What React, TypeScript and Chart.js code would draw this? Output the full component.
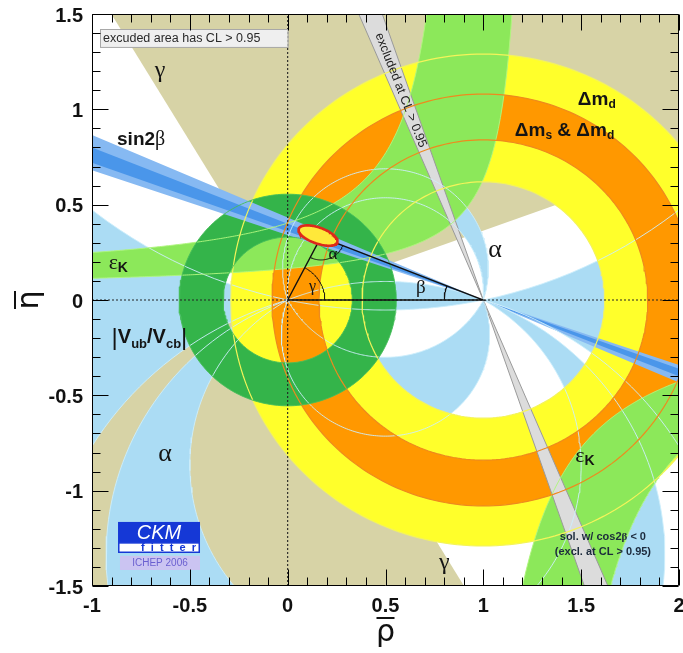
import React, { useEffect, useRef } from "react";
import { Chart, registerables } from "chart.js";

Chart.register(...registerables);

// ---------------- values ----------------
const X_TICKS = [-1, -0.5, 0, 0.5, 1, 1.5, 2];
const Y_TICKS = [-1.5, -1, -0.5, 0, 0.5, 1, 1.5];

// unitarity triangle apex (rho, eta) and 95% CL fit ellipse
const TRI_RHO = [0, 0.17, 1, 0];
const TRI_ETA = [0, 0.33, 0, 0];
const FIT_ELLIPSE = { rho: 0.155, eta: 0.338, semiMajor: 0.105, semiMinor: 0.042, tiltDeg: -20 };

// gamma: allowed wedges seen from (0,0), degrees
const GAMMA_WEDGES = [[20, 121], [200, 301]];
// alpha: allowed intervals (deg) of the angle seen from (rho,eta) to (0,0),(1,0)
const ALPHA_UPPER = [[0, 12], [72, 86], [158, 180]];
const ALPHA_LOWER = [[0, 16.5], [20.5, 30], [70, 118], [168, 180]];
// rings: [inner, outer] radius
const DMD_RADII = [0.62, 1.29]; // around (1,0)
const DMS_RADII = [0.84, 1.08]; // around (1,0)
const VUB_RADII = [0.33, 0.555]; // around (0,0)
// eps_K band edges: eta = c + k / (a - rho)   [upper edge, lower edge]
const EPSK_UPPER_A = [0.9, 1.245];
const EPSK_UPPER_K = [0.264, 0.143];
const EPSK_UPPER_C = [0.11, 0.05];
// second branch (lower right): eta = -k / (rho - a)
const EPSK_LOWER_A = [0.881, 1.247];
const EPSK_LOWER_K = [0.479, 0.605];
// beta bands seen from (1,0), degrees
const SIN2B_OUTER = [18.8, 23.4];
const SIN2B_CORE = [19.8, 21.8];
const COS2B_NEG = [67.0, 71.0];

// ---------------- styling ----------------
const SANS = '"Liberation Sans", Arial, Helvetica, sans-serif';
const SERIF = '"Liberation Serif", "DejaVu Serif", serif';
const C = {
  tan: "#d7d3a6",
  alpha: "#abdcf4",
  yellow: "#ffff2b",
  orange: "#ff9800",
  lgreen: "#8ce85a",
  dgreen: "#34b44a",
  grey: "#dcdcdc",
  blueLight: "#86b9f2",
  blue: "#4a96ea",
};

type Seg = { t: string; font: string; dy?: number };
type Label = { at: [number, number]; segs: Seg[]; align?: "left" | "center"; color?: string };

const LABELS: Label[] = [
  { at: [-0.652, 1.2], align: "center", segs: [{ t: "γ", font: `24px ${SERIF}` }] },
  { at: [-0.872, 0.839], segs: [{ t: "sin2", font: `bold 19px ${SANS}` }, { t: "β", font: `20px ${SERIF}` }] },
  { at: [-0.915, 0.195], segs: [{ t: "ε", font: `22px ${SERIF}` }, { t: "K", font: `bold 14px ${SANS}`, dy: 5 }] },
  {
    at: [-0.9, -0.199],
    segs: [
      { t: "|", font: `24px ${SANS}` },
      { t: "V", font: `bold 20px ${SANS}` },
      { t: "ub", font: `bold 13px ${SANS}`, dy: 6 },
      { t: "/V", font: `bold 20px ${SANS}` },
      { t: "cb", font: `bold 13px ${SANS}`, dy: 6 },
      { t: "|", font: `24px ${SANS}` },
    ],
  },
  { at: [-0.627, -0.81], align: "center", segs: [{ t: "α", font: `26px ${SERIF}` }] },
  { at: [0.8, -1.38], align: "center", segs: [{ t: "γ", font: `24px ${SERIF}` }] },
  { at: [1.06, 0.262], align: "center", segs: [{ t: "α", font: `26px ${SERIF}` }] },
  { at: [0.681, 0.063], align: "center", segs: [{ t: "β", font: `19px ${SERIF}` }] },
  { at: [0.231, 0.236], align: "center", segs: [{ t: "α", font: `17px ${SERIF}` }] },
  { at: [0.127, 0.068], align: "center", segs: [{ t: "γ", font: `16px ${SERIF}` }] },
  { at: [1.483, 1.049], segs: [{ t: "Δm", font: `bold 19px ${SANS}` }, { t: "d", font: `bold 12px ${SANS}`, dy: 5 }] },
  {
    at: [1.161, 0.886],
    segs: [
      { t: "Δm", font: `bold 19px ${SANS}` },
      { t: "s", font: `bold 12px ${SANS}`, dy: 5 },
      { t: " & ", font: `bold 19px ${SANS}` },
      { t: "Δm", font: `bold 19px ${SANS}` },
      { t: "d", font: `bold 12px ${SANS}`, dy: 5 },
    ],
  },
  { at: [1.47, -0.818], segs: [{ t: "ε", font: `22px ${SERIF}` }, { t: "K", font: `bold 14px ${SANS}`, dy: 5 }] },
  { at: [1.611, -1.243], align: "center", color: "#1c2a3c", segs: [{ t: "sol. w/ cos2", font: `bold 11px ${SANS}` }, { t: "β", font: `bold 11px ${SERIF}` }, { t: " < 0", font: `bold 11px ${SANS}` }] },
  { at: [1.611, -1.321], align: "center", color: "#1c2a3c", segs: [{ t: "(excl. at CL > 0.95)", font: `bold 11px ${SANS}` }] },
];

// ---------------- geometry helpers ----------------
const D2R = Math.PI / 180;
const FAR = 9;
type Pt = { x: number; y: number };
const P = (x: number, y: number): Pt => ({ x, y });

function arcPts(cx: number, cy: number, r: number, d0: number, d1: number, n: number): Pt[] {
  const out: Pt[] = [];
  for (let i = 0; i <= n; i++) {
    const t = (d0 + ((d1 - d0) * i) / n) * D2R;
    out.push(P(cx + r * Math.cos(t), cy + r * Math.sin(t)));
  }
  return out;
}
function ring(cx: number, cy: number, r1: number, r2: number): Pt[] {
  return [...arcPts(cx, cy, r2, 0, 360, 240), ...arcPts(cx, cy, r1, 360, 0, 240)];
}
function wedge(cx: number, cy: number, d0: number, d1: number): Pt[] {
  return [P(cx, cy), ...arcPts(cx, cy, FAR, d0, d1, Math.max(2, Math.ceil(Math.abs(d1 - d0) / 3)))];
}
function bowtie(cx: number, cy: number, d0: number, d1: number): Pt[] {
  return [...wedge(cx, cy, d0, d1), ...wedge(cx, cy, d0 + 180, d1 + 180)];
}
function alphaArc(a: number, s: number): Pt[] {
  if (a <= 0) return [P(0, 0), P(-FAR, 0), P(-FAR, s * FAR), P(FAR, s * FAR), P(FAR, 0), P(1, 0)];
  if (a >= 180) return [P(0, 0), P(1, 0)];
  const cy = 0.5 / Math.tan(a * D2R);
  const r = 0.5 / Math.sin(a * D2R);
  const tA = Math.atan2(-cy, -0.5);
  const sweep = (360 - 2 * a) * D2R;
  const n = 180;
  const out: Pt[] = [];
  for (let i = 0; i <= n; i++) {
    const t = tA - (sweep * i) / n;
    out.push(P(0.5 + r * Math.cos(t), s * (cy + r * Math.sin(t))));
  }
  return out;
}
function alphaRegion(a1: number, a2: number, s: number): Pt[] {
  return [...alphaArc(a1, s), ...alphaArc(a2, s).reverse()];
}
function epsUpperEdge(j: number): Pt[] {
  const a = EPSK_UPPER_A[j], k = EPSK_UPPER_K[j], c = EPSK_UPPER_C[j];
  const top = 2.4, x0 = -1.4, n = 240;
  const xe = a - k / (top - c);
  const out: Pt[] = [];
  for (let i = 0; i <= n; i++) { const x = x0 + ((xe - x0) * i) / n; out.push(P(x, c + k / (a - x))); }
  return out;
}
function epsLowerEdge(j: number): Pt[] {
  const a = EPSK_LOWER_A[j], k = EPSK_LOWER_K[j];
  const bot = 2.4, x1 = 2.4, n = 240;
  const xs = a + k / bot;
  const out: Pt[] = [];
  for (let i = 0; i <= n; i++) { const x = xs + ((x1 - xs) * i) / n; out.push(P(x, -k / (x - a))); }
  return out;
}
function ellipsePts(): Pt[] {
  const e = FIT_ELLIPSE;
  const f = e.tiltDeg * D2R;
  const out: Pt[] = [];
  for (let i = 0; i <= 120; i++) {
    const t = (i / 120) * 2 * Math.PI;
    const c = Math.cos(t), s = Math.sin(t);
    out.push(P(e.rho + e.semiMajor * c * Math.cos(f) - e.semiMinor * s * Math.sin(f), e.eta + e.semiMajor * c * Math.sin(f) + e.semiMinor * s * Math.cos(f)));
  }
  return out;
}

function fillDS(pts: Pt[], color: string, stroke?: string, strokeW?: number) {
  return { type: "line", data: pts, showLine: false, pointRadius: 0, pointHoverRadius: 0, fill: false, polyFill: color, polyStroke: stroke, polyStrokeW: strokeW };
}
function lineDS(pts: Pt[], color: string, width: number, dash: number[] = []) {
  return { type: "line", data: pts, showLine: true, borderColor: color, borderWidth: width, borderDash: dash, pointRadius: 0, pointHoverRadius: 0, fill: false, tension: 0 };
}

function buildDatasets() {
  const apexR = TRI_RHO[1], apexE = TRI_ETA[1];
  const gammaDeg = Math.atan2(apexE, apexR) / D2R;
  const betaDeg = Math.atan2(apexE, 1 - apexR) / D2R;
  const toA = Math.atan2(-apexE, -apexR) / D2R;
  const toB = Math.atan2(-apexE, 1 - apexR) / D2R;

  const alphaLines: any[] = [];
  ALPHA_UPPER.forEach(([a, b]) => [a, b].forEach((v) => { if (v > 0 && v < 180) alphaLines.push(lineDS(alphaArc(v, 1), "rgba(205,238,252,0.9)", 1)); }));
  ALPHA_LOWER.forEach(([a, b]) => [a, b].forEach((v) => { if (v > 0 && v < 180) alphaLines.push(lineDS(alphaArc(v, -1), "rgba(205,238,252,0.9)", 1)); }));

  const up0 = epsUpperEdge(0), up1 = epsUpperEdge(1);
  const lo0 = epsLowerEdge(0), lo1 = epsLowerEdge(1);

  const layers: any[] = [
    ...GAMMA_WEDGES.map(([a, b]) => fillDS(wedge(0, 0, a, b), C.tan)),
    ...ALPHA_UPPER.map(([a, b]) => fillDS(alphaRegion(a, b, 1), C.alpha)),
    ...ALPHA_LOWER.map(([a, b]) => fillDS(alphaRegion(a, b, -1), C.alpha)),
    fillDS(ring(1, 0, DMD_RADII[0], DMD_RADII[1]), C.yellow),
    fillDS(ring(1, 0, DMS_RADII[0], DMS_RADII[1]), C.orange),
    fillDS([...up0, ...up1.slice().reverse()], C.lgreen),
    fillDS([...lo0, ...lo1.slice().reverse()], C.lgreen),
    fillDS(ring(0, 0, VUB_RADII[0], VUB_RADII[1]), C.dgreen),
    fillDS(bowtie(1, 0, 180 - COS2B_NEG[1], 180 - COS2B_NEG[0]), C.grey, "#9a9a9a", 1),
    fillDS(bowtie(1, 0, 180 - SIN2B_OUTER[1], 180 - SIN2B_OUTER[0]), C.blueLight),
    fillDS(bowtie(1, 0, 180 - SIN2B_CORE[1], 180 - SIN2B_CORE[0]), C.blue),
    ...alphaLines,
    ...[up0, up1, lo0, lo1].map((p) => lineDS(p, "rgba(175,245,125,0.95)", 1)),
    ...DMD_RADII.map((r) => lineDS(arcPts(1, 0, r, 0, 360, 240), "#f4f45a", 1.2)),
    ...DMS_RADII.map((r) => lineDS(arcPts(1, 0, r, 0, 360, 240), "#ee8a1e", 1.2)),
    ...VUB_RADII.map((r) => lineDS(arcPts(0, 0, r, 0, 360, 200), "rgba(70,190,90,0.9)", 1)),
    lineDS([P(0, Y_TICKS[0]), P(0, Y_TICKS[Y_TICKS.length - 1])], "#222", 1.1, [2, 2]),
    lineDS([P(X_TICKS[0], 0), P(X_TICKS[X_TICKS.length - 1], 0)], "#222", 1.1, [2, 2]),
    lineDS(TRI_RHO.map((r, i) => P(r, TRI_ETA[i])), "#111", 1.4),
    lineDS(arcPts(0, 0, 0.19, 0, gammaDeg, 40), "#111", 1),
    lineDS(arcPts(1, 0, 0.2, 180 - betaDeg, 180, 40), "#111", 1),
    lineDS(arcPts(apexR, apexE, 0.12, toA, toB, 40), "#111", 1),
    { ...lineDS(ellipsePts(), "#dd2a1a", 2.6), polyFill: "#ffe83a" },
  ];
  return layers.map((d, i) => ({ ...d, order: layers.length - i }));
}

// ---------------- plugins ----------------
const polyFillPlugin = {
  id: "polyFill",
  beforeDatasetDraw(chart: any, args: any) {
    const ds = chart.data.datasets[args.index];
    if (!ds || !ds.polyFill) return;
    const pts = args.meta.data;
    if (!pts || !pts.length) return;
    const { ctx, chartArea: a } = chart;
    ctx.save();
    ctx.beginPath();
    ctx.rect(a.left, a.top, a.right - a.left, a.bottom - a.top);
    ctx.clip();
    ctx.beginPath();
    pts.forEach((p: any, i: number) => (i ? ctx.lineTo(p.x, p.y) : ctx.moveTo(p.x, p.y)));
    ctx.closePath();
    ctx.fillStyle = ds.polyFill;
    ctx.fill();
    if (ds.polyStroke) {
      ctx.strokeStyle = ds.polyStroke;
      ctx.lineWidth = ds.polyStrokeW || 1;
      ctx.stroke();
    }
    ctx.restore();
  },
};

function drawRich(ctx: CanvasRenderingContext2D, x: number, y: number, segs: Seg[], align: string, color: string) {
  let w = 0;
  for (const s of segs) { ctx.font = s.font; w += ctx.measureText(s.t).width; }
  let cx = align === "center" ? x - w / 2 : x;
  ctx.textBaseline = "middle";
  ctx.textAlign = "left";
  ctx.fillStyle = color;
  for (const s of segs) {
    ctx.font = s.font;
    ctx.fillText(s.t, cx, y + (s.dy || 0));
    cx += ctx.measureText(s.t).width;
  }
}

const decorPlugin = {
  id: "decor",
  afterDatasetsDraw(chart: any) {
    const { ctx, chartArea: a, scales } = chart;
    const px = (v: number) => scales.x.getPixelForValue(v);
    const py = (v: number) => scales.y.getPixelForValue(v);
    ctx.save();

    // "excluded area" box
    const bx0 = px(-0.959), bx1 = px(0.0), by0 = py(1.421), by1 = py(1.327);
    ctx.fillStyle = "#efefef";
    ctx.fillRect(bx0, by0, bx1 - bx0, by1 - by0);
    ctx.strokeStyle = "#a8a8a8";
    ctx.lineWidth = 1;
    ctx.strokeRect(Math.round(bx0) + 0.5, Math.round(by0) + 0.5, bx1 - bx0, by1 - by0);
    ctx.fillStyle = "#2a2a2a";
    ctx.font = `12.5px ${SANS}`;
    ctx.textBaseline = "middle";
    ctx.textAlign = "left";
    ctx.fillText("excuded area has CL > 0.95", bx0 + 3, (by0 + by1) / 2 + 1);

    // text along the cos2beta<0 stripe
    const mid = (COS2B_NEG[0] + COS2B_NEG[1]) / 2;
    const dirX = px(1 + Math.cos(-mid * D2R)) - px(1);
    const dirY = py(Math.sin(-mid * D2R)) - py(0);
    const ang = Math.atan2(dirY, dirX);
    const sy = 1.1;
    const sx = 1 - sy / Math.tan(mid * D2R);
    ctx.save();
    ctx.translate(px(sx), py(sy));
    ctx.rotate(ang);
    ctx.font = `12.5px ${SANS}`;
    ctx.textAlign = "center";
    ctx.textBaseline = "middle";
    ctx.fillStyle = "#222";
    ctx.fillText("excluded at CL > 0.95", 0, 0);
    ctx.restore();

    // labels
    for (const L of LABELS) drawRich(ctx, px(L.at[0]), py(L.at[1]), L.segs, L.align || "left", L.color || "#141414");

    // CKMfitter logo
    const lx0 = px(-0.867), lx1 = px(-0.448);
    const ly0 = py(-1.164), ly1 = py(-1.274), ly2 = py(-1.327);
    ctx.fillStyle = "#1538d6";
    ctx.fillRect(lx0, ly0, lx1 - lx0, ly1 - ly0);
    ctx.fillStyle = "#ffffff";
    ctx.font = `italic 20px ${SANS}`;
    ctx.textAlign = "center";
    ctx.fillText("CKM", (lx0 + lx1) / 2, (ly0 + ly1) / 2 + 1);
    ctx.fillStyle = "#ffffff";
    ctx.fillRect(lx0, ly1, lx1 - lx0, ly2 - ly1);
    ctx.strokeStyle = "#1538d6";
    ctx.lineWidth = 1.5;
    ctx.strokeRect(lx0 + 0.75, ly1, lx1 - lx0 - 1.5, ly2 - ly1 - 0.75);
    ctx.fillStyle = "#1538d6";
    ctx.font = `bold 11px ${SANS}`;
    ctx.textAlign = "right";
    ctx.fillText("f  i  t  t  e  r", lx1 - 4, (ly1 + ly2) / 2 + 0.5);
    const ix0 = px(-0.857), iy0 = py(-1.342), iy1 = py(-1.416);
    ctx.fillStyle = "#cbc4f2";
    ctx.fillRect(ix0, iy0, lx1 - ix0, iy1 - iy0);
    ctx.fillStyle = "#6a5fd0";
    ctx.font = `10px ${SANS}`;
    ctx.textAlign = "center";
    ctx.fillText("ICHEP 2006", (ix0 + lx1) / 2, (iy0 + iy1) / 2 + 0.5);

    // frame and inward ticks
    ctx.strokeStyle = "#000";
    ctx.lineWidth = 1;
    const L0 = Math.round(a.left) + 0.5, R0 = Math.round(a.right) - 0.5, T0 = Math.round(a.top) + 0.5, B0 = Math.round(a.bottom) - 0.5;
    ctx.beginPath();
    ctx.rect(L0, T0, R0 - L0, B0 - T0);
    const xmin = X_TICKS[0], xmax = X_TICKS[X_TICKS.length - 1];
    const ymin = Y_TICKS[0], ymax = Y_TICKS[Y_TICKS.length - 1];
    const nx = Math.round((xmax - xmin) / 0.1), ny = Math.round((ymax - ymin) / 0.1);
    for (let i = 0; i <= nx; i++) {
      const x = Math.round(px(xmin + i * 0.1)) + 0.5;
      const len = i % 5 === 0 ? 16 : 8;
      ctx.moveTo(x, B0); ctx.lineTo(x, B0 - len);
      ctx.moveTo(x, T0); ctx.lineTo(x, T0 + len);
    }
    for (let i = 0; i <= ny; i++) {
      const y = Math.round(py(ymin + i * 0.1)) + 0.5;
      const len = i % 5 === 0 ? 16 : 8;
      ctx.moveTo(L0, y); ctx.lineTo(L0 + len, y);
      ctx.moveTo(R0, y); ctx.lineTo(R0 - len, y);
    }
    ctx.stroke();
    ctx.restore();
  },
  afterDraw(chart: any) {
    const { ctx, scales } = chart;
    ctx.save();
    ctx.fillStyle = "#111";
    ctx.strokeStyle = "#111";
    // rho-bar
    const cx = scales.x.getPixelForValue((X_TICKS[0] + X_TICKS[X_TICKS.length - 1]) / 2);
    ctx.font = `30px "DejaVu Sans", ${SANS}`;
    ctx.textAlign = "center";
    ctx.textBaseline = "alphabetic";
    ctx.fillText("ρ", cx, 641);
    ctx.lineWidth = 2;
    ctx.beginPath();
    ctx.moveTo(cx - 9, 618); ctx.lineTo(cx + 9, 618);
    ctx.stroke();
    // eta-bar
    const cy = scales.y.getPixelForValue(0);
    ctx.translate(38, cy);
    ctx.rotate(-Math.PI / 2);
    ctx.fillText("η", 0, 0);
    ctx.beginPath();
    ctx.moveTo(-9, -23); ctx.lineTo(9, -23);
    ctx.stroke();
    ctx.restore();
  },
};

const fmtTick = (v: any) => String(Math.round(Number(v) * 10) / 10);

export default function App() {
  const ref = useRef<HTMLCanvasElement | null>(null);
  useEffect(() => {
    if (!ref.current) return;
    const tickFont = { family: SANS, size: 20, weight: "bold" as const };
    const chart = new Chart(ref.current, {
      type: "line",
      data: { datasets: buildDatasets() as any },
      options: {
        responsive: false,
        animation: false,
        devicePixelRatio: 1,
        events: [],
        layout: { padding: { top: 14, right: 4, left: 0, bottom: 0 }, autoPadding: false } as any,
        plugins: { legend: { display: false }, tooltip: { enabled: false } },
        scales: {
          x: {
            type: "linear",
            min: X_TICKS[0],
            max: X_TICKS[X_TICKS.length - 1],
            grid: { display: false, drawTicks: false },
            border: { display: false },
            ticks: { stepSize: X_TICKS[1] - X_TICKS[0], font: tickFont, color: "#111", padding: 8, maxRotation: 0, autoSkip: false, callback: fmtTick },
            afterFit: (s: any) => { s.height = 67; s.paddingLeft = 0; s.paddingRight = 0; },
          },
          y: {
            type: "linear",
            min: Y_TICKS[0],
            max: Y_TICKS[Y_TICKS.length - 1],
            grid: { display: false, drawTicks: false },
            border: { display: false },
            ticks: { stepSize: Y_TICKS[1] - Y_TICKS[0], font: tickFont, color: "#111", padding: 9, labelOffset: 2, autoSkip: false, callback: fmtTick },
            afterFit: (s: any) => { s.width = 92; s.paddingTop = 0; s.paddingBottom = 0; },
          },
        },
      } as any,
      plugins: [polyFillPlugin, decorPlugin],
    });
    return () => chart.destroy();
  }, []);
  return (
    <div style={{ position: "absolute", left: 0, top: 0, width: 683, height: 653, background: "#fff" }}>
      <canvas ref={ref} width={683} height={653} style={{ display: "block" }} />
    </div>
  );
}
